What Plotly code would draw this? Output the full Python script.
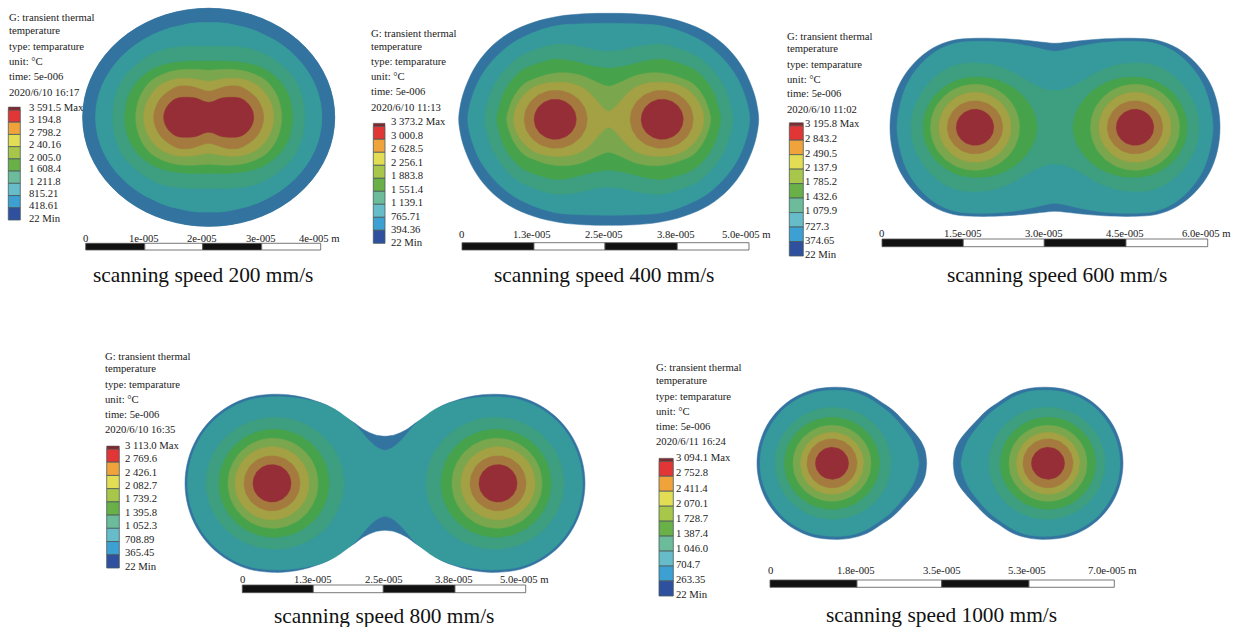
import numpy as np
import plotly.graph_objects as go

# ---------- shared colours (outer band -> hot core) ----------
BANDS = ["#33739f", "#369a9d", "#3d9e80", "#46a34b", "#7aa64d", "#a3a143", "#a57a3f", "#952e36"]
KEY = ["#e23636", "#f0a33a", "#e3dd55", "#a8c64a", "#69b048", "#6cbb9b", "#66bdc9", "#3da0d2", "#2f509f"]

HEADER = ["G: transient thermal", "temperature", "type: temparature", "unit: °C", "time: 5e-006"]

# Contours from outer band to core. A list of points is a contour;
# a tuple (offset, x radius, y radius) is a round contour around each melt-pool centre.

# ---------- panel 1 : 200 mm/s ----------
P1_CAPTION = "scanning speed 200 mm/s"
P1_DATE = "2020/6/10 16:17"
P1_KEY = ["3 591.5 Max", "3 194.8", "2 798.2", "2 40.16", "2 005.0", "1 608.4", "1 211.8", "815.21", "418.61", "22 Min"]
P1_SCALE = ["0", "1e-005", "2e-005", "3e-005", "4e-005 m"]
P1_CONTOURS = [
    (0, 126, 109),
    (0, 113, 95),
    [(0,71),(20,71),(40,69),(57,63),(72,53),(84,41),(91,28),(95,14),(96,0)],
    [(0,56),(20,56),(38,54),(52,50),(65,42),(75,31),(81,19),(83,9),(84,0)],
    [(0,47),(16,48),(32,47),(46,43),(58,36),(66,26),(71,14),(73,0)],
    [(0,36),(12,38),(26,39),(38,37),(50,31),(58,22),(63,12),(65,0)],
    [(0,26),(8,28),(18,31),(30,31),(40,26),(48,19),(53,10),(55,0)],
    [(0,15),(5,16),(12,19),(24,20),(33,18.5),(40,13),(44,6),(45,0)],
]

# ---------- panel 2 : 400 mm/s ----------
P2_CAPTION = "scanning speed 400 mm/s"
P2_DATE = "2020/6/10 11:13"
P2_KEY = ["3 373.2 Max", "3 000.8", "2 628.5", "2 256.1", "1 883.8", "1 551.4", "1 139.1", "765.71", "394.36", "22 Min"]
P2_SCALE = ["0", "1.3e-005", "2.5e-005", "3.8e-005", "5.0e-005 m"]
P2_CONTOURS = [
    [(0,106),(25,105.5),(50,103),(75,97),(100,86),(120,70),(135,50),(145,27),(148.5,13),(150,0)],
    [(0,96),(25,95.5),(50,94),(72,88),(95,77),(113,62),(127,44),(136,24),(141,0)],
    [(0,68),(12,69),(25,72),(40,74.5),(54,75),(72,70),(90,62),(104,49),(115,33),(121,17),(124,0)],
    [(0,51),(10,52),(20,54),(35,58),(54,60),(70,56),(85,50),(96,40),(104,28),(109,14),(112,0)],
    [(0,33),(7,35),(14,38),(25,43),(38,46),(54,46),(70,42),(85,35),(94,24),(99,13),(102,0)],
    [(0,8),(4,10),(8,14),(16,23),(25,31),(38,36),(50,37),(63,36),(75,32),(84,25),(90,17),(94,8),(95,0)],
    (53, 31.5, 29),
    (53.5, 21, 20),
]

# ---------- panel 3 : 600 mm/s ----------
P3_CAPTION = "scanning speed 600 mm/s"
P3_DATE = "2020/6/10 11:02"
P3_KEY = ["3 195.8 Max", "2 843.2", "2 490.5", "2 137.9", "1 785.2", "1 432.6", "1 079.9", "727.3", "374.65", "22 Min"]
P3_SCALE = ["0", "1.5e-005", "3.0e-005", "4.5e-005", "6.0e-005 m"]
P3_CONTOURS = [
    [(0,84),(12,85),(25,86.5),(50,88.5),(80,89),(102,87),(122.5,79),(141,64),(154.6,45),(162.5,23),(165,0)],
    [(0,76),(12,78),(25,81),(50,85),(80,86),(100,84),(119,76),(136,61),(148,43),(155,22),(158,0)],
    [(0,37),(5,37),(12,39),(25,45),(40,54),(60,62),(75,64),(90,64),(105,60),(118,52),(130,40),(139,24),(143,12),(144,0)],
    [(18,0),(20,12),(27,25),(37,36),(50,44),(65,49),(80,50),(95,48),(108,42),(119,33),(127,21),(131,10),(132,0)],
    (80, 44.5, 43),
    (80, 36, 35),
    (80, 27.7, 26.5),
    (80, 18.7, 18),
]

# ---------- panel 4 : 800 mm/s ----------
P4_CAPTION = "scanning speed 800 mm/s"
P4_DATE = "2020/6/10 16:35"
P4_KEY = ["3 113.0 Max", "2 769.6", "2 426.1", "2 082.7", "1 739.2", "1 395.8", "1 052.3", "708.89", "365.45", "22 Min"]
P4_SCALE = ["0", "1.3e-005", "2.5e-005", "3.8e-005", "5.0e-005 m"]
P4_CONTOURS = [
    [(0,47),(5,47.5),(10,48.5),(22,54),(30,60),(38,65),(48,72),(58,78),(70,82.5),(82,86),(97,88.5),(113,89),(135.5,86),(156.5,77),(174.5,63),(188.3,44.5),(197,23),(200,0)],
    [(0,33),(4,34),(8,36),(13,40),(18,45),(30,59),(40,67),(50,74),(65,80.5),(80,84),(95,86),(113,86.5),(134.9,83.6),(155.3,74.9),(172.8,61.2),(186.2,43.3),(194.6,22.4),(197.5,0)],
    (110, 69, 66),
    (111, 55, 54),
    (112, 45, 45),
    (113, 37, 36.5),
    (113, 28, 27.5),
    (113, 19, 18.7),
]

# ---------- panel 5 : 1000 mm/s ----------
P5_CAPTION = "scanning speed 1000 mm/s"
P5_DATE = "2020/6/11 16:24"
P5_KEY = ["3 094.1 Max", "2 752.8", "2 411.4", "2 070.1", "1 728.7", "1 387.4", "1 046.0", "704.7", "263.35", "22 Min"]
P5_SCALE = ["0", "1.8e-005", "3.5e-005", "5.3e-005", "7.0e-005 m"]
P5_CONTOURS = [
    [(13.3,0),(13.8,6),(15,13),(19,22),(25,30),(36,42),(47,53),(60,62),(73,70),(90,75),(108,76),(127.4,73.4),(145.5,65.8),(161,53.7),(173,38),(180.4,19.7),(183,0)],
    [(21,0),(23,10),(28,23),(38,37),(50,50),(62,59),(75,67),(90,72),(108,73),(126.6,70.5),(144,63.2),(159,51.6),(170,36.5),(177.5,18.9),(180,0)],
    (107, 58, 56),
    (108, 47.5, 46),
    (108, 39, 38),
    (108, 31.5, 31),
    (108, 25, 24.5),
    (108, 16.5, 16),
]

# ---------- page layout of each panel (pixels of the 1237x627 page) ----------
PANELS = [
    dict(contours=P1_CONTOURS, centre=(208.7,117.3), caption=P1_CAPTION, date=P1_DATE, key=P1_KEY, scale=P1_SCALE,
         text_x=8.5, text_y=[17,30,46,61,76,92], key_x=29, key_y=[107.3,119.3,132.3,144.3,156.7,168.3,181.3,193.3,205,218],
         bar=(8.3,20.3,107,220), sb=[85.7,144.8,202.7,261.7,320.7], sb_y=(243.3,250), tick_y=237.7,
         tick_x=[85.7,144.3,202.3,261,319.3], cap=(202.7,275.2)),
    dict(contours=P2_CONTOURS, centre=(608.7,119.3), caption=P2_CAPTION, date=P2_DATE, key=P2_KEY, scale=P2_SCALE,
         text_x=370.7, text_y=[32.7,45.7,61,76,91,106.7], key_x=391, key_y=[121.3,134.7,148.3,161.7,175.3,188.7,202.3,215.7,229.3,242.3],
         bar=(373.3,385,123.3,243.3), sb=[462,534,605,677.3,749], sb_y=(242.7,250), tick_y=234.3,
         tick_x=[461.7,532,603.7,675.7,746], cap=(604,275.2)),
    dict(contours=P3_CONTOURS, centre=(1055,127.3), caption=P3_CAPTION, date=P3_DATE, key=P3_KEY, scale=P3_SCALE,
         text_x=786.7, text_y=[35.7,47.7,63.7,78.7,93.3,109.3], key_x=805, key_y=[123.3,138,152.7,167,181.3,196,210.3,225.7,239.7,254.3],
         bar=(789.3,803.3,122.7,256), sb=[882,963.3,1044.3,1126,1207.7], sb_y=(239,246.7), tick_y=232.7,
         tick_x=[881.7,963.3,1044,1125.3,1206], cap=(1057.3,275.2)),
    dict(contours=P4_CONTOURS, centre=(385,483.3), caption=P4_CAPTION, date=P4_DATE, key=P4_KEY, scale=P4_SCALE,
         text_x=105, text_y=[355.7,368,384,398.7,413.7,429.3], key_x=125, key_y=[445.3,458.3,472.3,485.3,498.3,512.3,525.3,539.3,552.3,565.7],
         bar=(106.7,119.3,446,568), sb=[242.3,313.3,383.3,455,525.7], sb_y=(585,592.7), tick_y=578.7,
         tick_x=[242.7,313.3,383.7,454,524.3], cap=(384,615.5)),
    dict(contours=P5_CONTOURS, centre=(940,463.3), caption=P5_CAPTION, date=P5_DATE, key=P5_KEY, scale=P5_SCALE,
         text_x=655.7, text_y=[367.3,379.7,395.7,410.7,425.7,441.3], key_x=675.7, key_y=[457.3,472.3,487.7,503.3,518.3,533.3,548.3,564.3,579.3,594.3],
         bar=(659,673.3,458.3,596), sb=[770,857,941.7,1029,1114.3], sb_y=(580,587.3), tick_y=570.3,
         tick_x=[770,856,941.7,1027,1112.7], cap=(941.7,615.2)),
]

FONT = "Liberation Serif"
fig = go.Figure()


def band(xs, ys, colour, shape="spline"):
    fig.add_trace(go.Scatter(x=xs, y=ys, mode="lines", fill="toself", fillcolor=colour,
                             line=dict(color=colour, width=0.5, shape=shape),
                             hoverinfo="skip", showlegend=False))


def draw_outline(cx, cy, pts, colour):
    p = np.array(pts, dtype=float)
    if p[0, 0] == 0:  # one connected contour, given as a quadrant
        top = np.vstack([p, p[-2::-1] * [1, -1], p[1:] * [-1, -1], p[-2::-1] * [-1, 1]])
        band(list(cx + top[:, 0]), list(cy + top[:, 1]), colour)
    else:  # two separate lobes, upper half of the right one
        half = np.vstack([p, p[-2::-1] * [1, -1], p[:1]])
        band(list(cx + half[:, 0]), list(cy + half[:, 1]), colour)
        band(list(cx - half[:, 0]), list(cy + half[:, 1]), colour)


def draw_ring(cx, cy, ring, colour):
    dx0, rx, ry = ring
    t = np.linspace(0, 2 * np.pi, 73)
    for s in (-1, 1):
        band(list(cx + s * dx0 + rx * np.cos(t)), list(cy + ry * np.sin(t)), colour, shape="linear")


def label(x, y, text, size, anchor="left", colour="#222222"):
    fig.add_annotation(x=x, y=y, text=text, showarrow=False, xanchor=anchor, yanchor="middle",
                       font=dict(family=FONT, size=size, color=colour), borderpad=0, borderwidth=0)


for p in PANELS:
    cx, cy = p["centre"]
    for level, c in enumerate(p["contours"]):
        if isinstance(c, tuple):
            draw_ring(cx, cy, c, BANDS[level])
        else:
            draw_outline(cx, cy, c, BANDS[level])

    # header
    for y, t in zip(p["text_y"], HEADER + [p["date"]]):
        label(p["text_x"], y, t, 10.7)

    # colour key
    x0, x1, y0, y1 = p["bar"]
    edges = np.linspace(y0 + 3, y1, len(KEY) + 1)
    fig.add_trace(go.Bar(x=[(x0 + x1) / 2] * len(KEY), y=list(np.diff(edges)), base=list(edges[:-1]),
                         width=x1 - x0, marker=dict(color=KEY, line=dict(color="#4a5a5a", width=0.8)),
                         hoverinfo="skip", showlegend=False))
    fig.add_trace(go.Bar(x=[(x0 + x1) / 2], y=[3], base=[y0], width=x1 - x0,
                         marker=dict(color="#7c2b30", line=dict(color="#555555", width=0.5)),
                         hoverinfo="skip", showlegend=False))
    for y, t in zip(p["key_y"], p["key"]):
        label(p["key_x"], y, t, 10.7)

    # scale bar
    sb = np.array(p["sb"])
    sy0, sy1 = p["sb_y"]
    fig.add_trace(go.Bar(y=[(sy0 + sy1) / 2] * 4, x=list(np.diff(sb)), base=list(sb[:-1]), orientation="h",
                         width=sy1 - sy0,
                         marker=dict(color=["#111111", "#ffffff", "#111111", "#ffffff"],
                                     line=dict(color="#555555", width=0.8)),
                         hoverinfo="skip", showlegend=False))
    for x, t in zip(p["tick_x"], p["scale"]):
        label(x, p["tick_y"], t, 10.7, anchor="center")

    # caption
    label(p["cap"][0], p["cap"][1], p["caption"], 21.4, anchor="center", colour="#111111")

fig.update_layout(
    width=1237, height=627, margin=dict(l=0, r=0, t=0, b=0),
    paper_bgcolor="white", plot_bgcolor="white", barmode="overlay", showlegend=False,
    xaxis=dict(range=[0, 1237], visible=False, fixedrange=True),
    yaxis=dict(range=[627, 0], visible=False, fixedrange=True),
)
fig.write_html("out.html", config=dict(displayModeBar=False),
               post_script="document.body.style.margin='0';document.body.style.overflow='hidden';")
